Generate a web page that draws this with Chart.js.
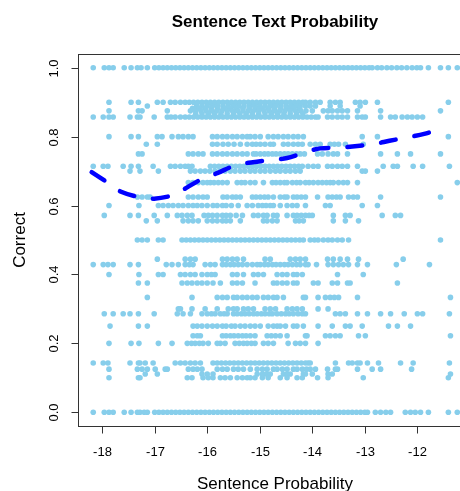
<!DOCTYPE html>
<html>
<head>
<meta charset="utf-8">
<script src="https://cdn.jsdelivr.net/npm/chart.js@4/dist/chart.umd.min.js"></script>
<style>
html,body{margin:0;padding:0;background:#fff;overflow:hidden;width:460px;height:491px;}
#wrap{position:absolute;left:0;top:0;width:500px;height:491px;}
</style>
</head>
<body>
<div id="wrap"><canvas id="c" width="500" height="491"></canvas></div>
<script>
// ---- Data ----
const chartTitle = "Sentence Text Probability";
const xTitle = "Sentence Probability";
const yTitle = "Correct";
const xTicks = [-18, -17, -16, -15, -14, -13, -12, -11];
const yTicks = [0, 0.2, 0.4, 0.6, 0.8, 1.0];
const yTickLabels = ["0.0", "0.2", "0.4", "0.6", "0.8", "1.0"];

// x positions of points on each observed "Correct" level
const xAt1000 = [-18.17,-17.96,-17.87,-17.79,-17.58,-17.45,-17.33,-17.26,-17.14,
 -17.00,-16.92,-16.84,-16.76,-16.68,-16.60,-16.52,-16.44,-16.36,-16.28,-16.20,-16.12,-16.04,-15.96,-15.88,-15.80,-15.72,-15.64,-15.56,-15.48,-15.40,-15.32,-15.24,-15.16,-15.08,-15.00,-14.92,-14.84,-14.76,-14.68,-14.60,-14.52,-14.44,-14.36,-14.28,-14.20,-14.12,-14.04,-13.96,-13.88,-13.80,-13.72,-13.64,-13.56,-13.48,-13.40,-13.32,-13.24,-13.16,-13.08,-13.00,-12.92,-12.86,
 -12.76,-12.68,-12.58,-12.49,-12.39,-12.30,-12.20,-12.10,-12.01,-11.94,-11.79,-11.56,-11.41,-11.24];
const xAt0900 = [-17.87,-17.45,-17.31,-16.95,-16.84,-16.70,-16.61,-16.51,
 -16.42,-16.34,-16.26,-16.18,-16.10,-16.02,-15.94,-15.86,-15.78,-15.70,-15.62,-15.54,-15.46,-15.38,-15.30,-15.22,-15.14,-15.06,-14.98,-14.90,-14.82,-14.74,-14.66,-14.58,-14.50,-14.42,-14.34,-14.26,-14.18,-14.13,
 -14.04,-13.94,-13.85,-13.66,-13.56,-13.47,-13.18,-13.09,-12.99,-12.76,-11.41];
const xAt0889 = [-17.14,-16.20,-16.10,-16.00,-15.90,-15.80,-15.70,-15.60,-15.50,-15.40,-15.30,-15.20,-15.10,-15.00,-14.90,-14.80,-14.70,-14.60,-14.50,-14.41,-14.32,-14.23,-14.13,-14.04,-13.94,-13.66,-13.47,-13.09];
const xAt0882 = [-16.28,-16.16,-16.04,-15.92,-15.80,-15.68,-15.56,-15.44,-15.32,-15.20,-15.08,-14.96,-14.84,-14.72,-14.60,-14.48,-14.36,-14.24];
const xAt0875 = [-17.87,-17.31,-17.24,-16.76,
 -16.32,-16.22,-16.12,-16.02,-15.92,-15.82,-15.72,-15.62,-15.52,-15.42,-15.32,-15.22,-15.12,-15.02,-14.92,-14.82,-14.72,-14.62,-14.52,-14.42,-14.32,-14.22,-14.12,-14.00,
 -13.79,-13.70,-13.62,-13.52,-13.43,-13.33,-13.14,-12.70,-11.56];
const xAt0867 = [-16.22,-16.10,-15.98,-15.86,-15.74,-15.62,-15.50,-15.38,-15.26,-15.14,-15.02,-14.90,-14.78,-14.66,-14.54,-14.42,-14.30,-14.18];
const xAt0857 = [-18.17,-17.98,-17.87,-17.79,-17.47,-17.33,-17.28,-17.01,-16.76,-16.69,-16.61,-16.51,
 -16.42,-16.34,-16.26,-16.18,-16.10,-16.02,-15.94,-15.86,-15.78,-15.70,-15.62,-15.54,-15.46,-15.38,-15.30,-15.22,-15.14,-15.06,-14.98,-14.90,-14.82,-14.74,-14.66,-14.58,-14.50,-14.42,-14.34,-14.26,-14.18,-14.10,-14.02,-13.94,-13.89,
 -13.71,-13.62,-13.52,-13.43,-13.33,-13.14,-13.05,-12.99,-12.70,-12.51,-12.42,-12.29,-12.19,-12.10,-12.00,-11.90];
const xAt0800 = [-17.87,-17.45,-17.31,-16.95,-16.86,-16.67,-16.55,-16.46,-16.36,-16.27,-15.90,-15.81,-15.71,-15.62,-15.52,-15.43,-15.33,-15.24,-15.18,-15.09,-14.99,-14.84,-14.74,-14.65,-14.55,-14.46,-14.36,-14.27,-14.17,-13.05,-12.76,-11.41];
const xAt0778 = [-17.16,-16.95,-15.90,-15.81,-15.70,-15.60,-15.49,-15.37,-15.24,-15.14,-15.07,-14.99,-14.90,-14.80,-14.74,-14.55,-14.46,-14.36,-14.27,-14.19,-14.04,-13.94,-13.85,-13.66,-13.58,-13.50,-13.37,-13.03];
const xAt0750 = [-17.31,-17.24,-16.36,-16.27,-16.17,-16.08,-15.90,-15.81,-15.71,-15.62,-15.52,-15.43,-15.33,-15.24,-15.12,-15.07,-14.99,-14.91,-14.84,-14.76,-14.69,-14.61,-14.53,-14.46,-14.38,-14.30,-14.23,-14.15,-13.90,-13.81,-13.70,-13.60,-13.52,-13.33,-12.70,-12.38,-12.13,-11.56];
const xAt0714 = [-18.17,-17.98,-17.89,-17.60,-17.45,-17.31,-17.03,-16.70,-16.61,-16.51,-16.42,-16.36,-16.29,
 -15.94,-15.86,-15.78,-15.70,-15.62,-15.54,-15.46,-15.38,-15.30,-15.22,-15.14,-15.06,-14.98,-14.90,-14.82,-14.74,-14.66,-14.58,-14.50,-14.42,-14.34,-14.26,-14.19,
 -14.08,-13.98,-13.89,-13.71,-13.62,-13.52,-13.43,-13.33,-13.14,-12.65,-12.46,-12.38,-12.08,-11.90,-11.39];
const xAt0700 = [-17.47,-17.28,-16.93,-16.32,-16.23,-16.13,-16.04,-15.95,-15.85,-15.75,-15.66,-15.56,-15.47,-15.37,-15.28,-15.18,-15.09,-14.99,-14.90,-14.80,-14.70,-14.61,-14.51,-14.42,-14.32,-14.23,-13.05,-12.99,-12.76];
const xAt0667 = [-16.36,-16.27,-16.17,-16.08,-16.00,-15.94,-15.87,-15.79,-15.71,-15.62,-15.43,-15.35,-15.28,-15.18,-15.09,-14.93,-14.76,-14.69,-14.61,-14.53,-14.48,-14.38,-14.30,-14.23,-14.13,-14.06,-13.98,-13.89,-13.81,-13.73,-13.66,-13.60,-13.50,-13.41,-13.33,-13.14,-11.24];
const xAt0625 = [-17.33,-17.24,-17.14,-17.09,-16.36,-16.27,-16.17,-16.08,-16.00,-15.70,-15.62,-15.52,-15.45,-15.37,-15.14,-15.07,-14.99,-14.91,-14.84,-14.74,-14.61,-14.53,-14.48,-14.36,-14.29,-14.21,-14.13,-13.90,-13.70,-13.62,-13.54,-13.47,-13.31,-13.22,-13.14,-12.70,-11.56];
const xAt0600 = [-17.87,-17.30,-16.93,-16.84,-16.74,-16.65,-16.55,-16.46,-16.36,-16.27,-16.19,-16.10,-16.00,-15.89,-15.81,-15.71,-15.64,-15.54,-15.41,-15.24,-15.14,-15.03,-14.95,-14.88,-14.80,-14.74,-14.61,-14.48,-14.38,-14.29,-14.13,-13.75,-13.66,-13.05,-12.76];
const xAt0571 = [-17.96,-17.47,-17.31,-17.01,-16.76,-16.57,-16.48,-16.38,-16.29,-16.06,-15.98,-15.90,-15.81,-15.71,-15.64,-15.56,-15.45,-15.33,-15.12,-15.03,-14.93,-14.86,-14.74,-14.67,-14.48,-14.36,-14.29,-14.21,-14.13,-14.06,-14.00,-13.60,-13.37,-13.28,-12.67,-12.42,-12.32];
const xAt0556 = [-17.16,-16.95,-16.46,-16.36,-16.27,-16.17,-16.00,-15.90,-15.81,-15.71,-15.64,-15.56,-15.37,-14.93,-14.86,-14.76,-14.67,-14.32,-14.25,-14.17,-13.60,-13.37,-13.12];
const xAt0500 = [-17.33,-17.24,-17.14,-16.93,-16.84,
 -16.48,-16.40,-16.32,-16.24,-16.16,-16.08,-16.00,-15.92,-15.84,-15.76,-15.68,-15.60,-15.52,-15.44,-15.36,-15.28,-15.20,-15.12,-15.04,-14.96,-14.88,-14.80,-14.72,-14.64,-14.56,-14.48,-14.40,-14.32,-14.24,-14.17,
 -14.04,-13.96,-13.89,-13.79,-13.70,-13.62,-13.52,-13.43,-13.31,-11.56];
const xAt0444 = [-16.95,-16.42,-16.32,-16.23,-15.71,-15.62,-15.52,-15.43,-15.31,-14.90,-14.80,-14.42,-14.32,-14.23,-14.13,-13.71,-13.60,-13.47,-13.33,-13.12,-12.27];
const xAt0429 = [-18.17,-17.98,-17.89,-17.79,-17.47,-17.31,-16.78,-16.67,-16.55,-16.42,-16.34,-16.27,-16.04,-15.94,-15.85,-15.71,-15.64,-15.56,-15.49,-15.41,-15.33,-15.24,-15.14,-15.05,-14.99,-14.91,-14.84,-14.76,-14.69,-14.61,-14.53,-14.46,-14.38,-14.30,-14.23,-14.13,-14.08,-13.92,-13.70,-13.60,-13.50,-13.41,-13.31,-13.14,-12.95,-12.40,-11.77];
const xAt0400 = [-17.87,-17.30,-16.93,-16.84,-16.51,-16.42,-16.32,-16.23,-16.10,-16.00,-15.92,-15.85,-15.52,-15.43,-15.31,-15.12,-15.03,-14.93,-14.67,-14.57,-14.48,-14.36,-14.29,-14.19,-13.52,-13.03];
const xAt0375 = [-17.31,-17.14,-16.48,-16.38,-16.29,-16.19,-16.10,-16.00,-15.89,-15.75,-15.52,-15.43,-15.33,-15.09,-14.74,-14.67,-14.57,-14.48,-14.36,-14.29,-13.98,-13.89,-13.62,-13.52,-13.33,-13.28,-12.38];
const xAt0333 = [-17.14,-16.29,-15.81,-15.71,-15.62,-15.50,-15.43,-15.33,-15.24,-15.14,-15.05,-14.93,-14.84,-14.74,-14.67,-14.55,-14.17,-14.13,-13.89,-13.75,-13.66,-13.58,-13.50,-13.14,-11.37];
const xAt0300 = [-16.55,-16.51,-16.29,-16.04,-15.81,-15.60,-15.50,-15.43,-15.31,-15.22,-15.12,-14.90,-14.80,-14.70,-14.48,-14.38,-14.29,-14.19,-13.89,-13.70];
const xAt0286 = [-17.96,-17.79,-17.60,-17.47,-17.31,-17.01,-16.57,-16.46,-16.32,-16.10,-16.00,-15.92,-15.85,-15.75,-15.68,-15.62,-15.50,-15.43,-15.35,-15.28,-15.20,-15.12,-15.05,-14.97,-14.90,-14.82,-14.76,-14.67,-14.59,-14.51,-14.44,-14.36,-14.27,-14.19,-14.13,-13.56,-13.47,-13.37,-13.14,-12.95,-12.70,-12.51,-12.25,-12.00,-11.90,-11.39];
const xAt0250 = [-17.85,-17.31,-17.14,-16.27,-16.19,-16.10,-16.00,-15.90,-15.81,-15.71,-15.64,-15.54,-15.47,-15.37,-15.28,-15.18,-15.09,-14.99,-14.84,-14.74,-14.67,-14.61,-14.51,-14.36,-14.29,-14.17,-13.89,-13.62,-13.37,-13.28,-13.05,-12.55,-12.38,-12.13];
const xAt0222 = [-16.27,-16.19,-16.13,-15.71,-15.64,-15.56,-15.49,-15.41,-15.33,-15.26,-15.18,-15.09,-14.86,-14.78,-14.70,-14.61,-14.48,-14.13,-14.10,-13.75,-13.66,-13.56,-13.47,-13.12,-12.99,-11.37];
const xAt0200 = [-17.87,-17.45,-17.30,-16.93,-16.67,-16.38,-16.30,-16.23,-16.15,-16.08,-15.98,-15.81,-15.75,-15.66,-15.47,-15.39,-15.31,-15.24,-15.16,-15.09,-14.93,-14.84,-14.74,-14.46,-14.32,-14.23,-14.13,-13.89];
const xAt0143 = [-18.17,-17.98,-17.89,-17.47,-17.31,-17.28,-17.18,-17.03,-16.61,-16.51,-16.42,-16.32,-16.23,-16.13,
 -15.89,-15.81,-15.73,-15.65,-15.57,-15.49,-15.41,-15.33,-15.25,-15.17,-15.09,-15.01,-14.93,-14.85,-14.77,-14.69,-14.61,-14.53,-14.45,-14.37,-14.29,-14.21,-14.13,
 -14.08,-14.04,-13.56,-13.31,-13.24,-13.14,-13.09,-12.95,-12.74,-12.32,-12.08,-11.39];
const xAt0125 = [-17.87,-17.33,-17.24,-17.14,-16.99,-16.80,-16.76,-16.36,-16.27,-16.19,-16.10,-15.81,-15.71,-15.62,-15.50,-15.41,-15.31,-15.18,-15.05,-14.95,-14.86,-14.74,-14.67,-14.57,-14.48,-14.36,-14.29,-14.19,-14.11,-14.04,-13.94,-13.71,-13.56,-13.52,-13.14,-12.86,-12.70,-12.11];
const xAt0111 = [-17.18,-16.95,-16.10,-16.00,-15.89,-15.05,-14.95,-14.88,-14.80,-14.55,-14.48,-14.42,-14.17,-14.13,-14.00,-13.70,-13.62,-11.37];
const xAt0100 = [-17.87,-17.31,-17.28,-16.38,-16.29,-16.08,-15.98,-15.89,-15.75,-15.66,-15.56,-15.43,-15.33,-15.24,-15.18,-15.09,-14.95,-14.84,-14.61,-14.48,-14.29,-14.19,-13.90,-13.70,-13.03,-11.41];
const xAt0000 = [-18.17,-17.96,-17.87,-17.79,-17.58,-17.45,-17.33,-17.28,-17.20,-17.14,
 -17.00,-16.92,-16.84,-16.76,-16.68,-16.60,-16.52,-16.44,-16.36,-16.28,-16.20,-16.12,-16.04,-15.96,-15.88,-15.80,-15.72,-15.64,-15.56,-15.48,-15.40,-15.32,-15.24,-15.16,-15.08,-15.00,-14.92,-14.84,-14.76,-14.68,-14.60,-14.52,-14.44,-14.36,-14.28,-14.20,-14.12,-14.04,-13.96,-13.88,-13.80,-13.72,-13.64,-13.56,-13.48,-13.40,-13.32,-13.24,-13.16,-13.08,-13.00,-12.95,
 -12.80,-12.70,-12.60,-12.51,-12.23,-12.13,-12.04,-11.94,-11.79,-11.41,-11.24];

const levels = [1.0, 0.9, 8/9, 15/17, 0.875, 13/15, 6/7, 0.8, 7/9, 0.75, 5/7, 0.7, 2/3, 0.625, 0.6, 4/7, 5/9, 0.5, 4/9, 3/7, 0.4, 0.375, 1/3, 0.3, 2/7, 0.25, 2/9, 0.2, 1/7, 0.125, 1/9, 0.1, 0];
const levelXs = [xAt1000, xAt0900, xAt0889, xAt0882, xAt0875, xAt0867, xAt0857, xAt0800, xAt0778, xAt0750, xAt0714, xAt0700, xAt0667, xAt0625, xAt0600, xAt0571, xAt0556, xAt0500, xAt0444, xAt0429, xAt0400, xAt0375, xAt0333, xAt0300, xAt0286, xAt0250, xAt0222, xAt0200, xAt0143, xAt0125, xAt0111, xAt0100, xAt0000];

// smoothed (loess-like) curve
const smoothX = [-18.20,-17.88,-17.64,-17.28,-17.01,-16.63,-16.39,-16.08,-15.81,-15.45,-15.13,-14.77,-14.48,-14.13,-13.85,-13.47,-13.19,-12.81,-12.53,-12.15,-11.87,-11.50];
const smoothY = [0.697,0.665,0.640,0.624,0.620,0.631,0.652,0.679,0.694,0.718,0.726,0.733,0.738,0.755,0.766,0.768,0.772,0.779,0.788,0.799,0.808,0.825];

// ---- Build datasets ----
const scatterPts = [];
levels.forEach((v, i) => levelXs[i].forEach(x => scatterPts.push({x: x, y: v})));
const smoothPts = smoothX.map((x, i) => ({x: x, y: smoothY[i]}));

const FONT = '"Liberation Sans", Arial, Helvetica, sans-serif';

const rAxes = {
  id: 'rAxes',
  afterDraw(chart) {
    const ctx = chart.ctx, a = chart.chartArea;
    const xs = chart.scales.x, ys = chart.scales.y;
    ctx.save();
    // box
    ctx.strokeStyle = '#333';
    ctx.lineWidth = 1;
    ctx.strokeRect(Math.round(a.left) + 0.5, Math.round(a.top) + 0.5, Math.round(a.right - a.left), Math.round(a.bottom - a.top));
    // x ticks
    ctx.fillStyle = '#000';
    ctx.font = '13px ' + FONT;
    ctx.textAlign = 'center';
    ctx.textBaseline = 'middle';
    const by = Math.round(a.bottom) + 0.5;
    xTicks.forEach(t => {
      const px = Math.round(xs.getPixelForValue(t)) + 0.5;
      ctx.beginPath(); ctx.moveTo(px, by); ctx.lineTo(px, by + 7); ctx.stroke();
      ctx.fillText(String(t), px, by + 26);
    });
    // y ticks
    const lx = Math.round(a.left) + 0.5;
    yTicks.forEach((t, i) => {
      const py = Math.round(ys.getPixelForValue(t)) + 0.5;
      ctx.beginPath(); ctx.moveTo(lx - 7, py); ctx.lineTo(lx, py); ctx.stroke();
      ctx.save();
      ctx.translate(lx - 24, py);
      ctx.rotate(-Math.PI / 2);
      ctx.fillText(yTickLabels[i], 0, 0);
      ctx.restore();
    });
    // titles
    const cx = (a.left + a.right) / 2;
    ctx.font = 'bold 17px ' + FONT;
    ctx.fillText(chartTitle, cx, 22);
    ctx.font = '17px ' + FONT;
    ctx.fillText(xTitle, cx, 484);
    ctx.save();
    ctx.translate(20, (a.top + a.bottom) / 2);
    ctx.rotate(-Math.PI / 2);
    ctx.fillText(yTitle, 0, 0);
    ctx.restore();
    ctx.restore();
  }
};

new Chart(document.getElementById('c'), {
  type: 'scatter',
  data: {
    datasets: [
      {
        type: 'line',
        label: 'smooth',
        data: smoothPts,
        borderColor: '#0000FF',
        borderWidth: 4.5,
        borderDash: [15, 19],
        borderCapStyle: 'round',
        pointRadius: 0,
        tension: 0.3,
        fill: false,
        order: 0
      },
      {
        label: 'points',
        data: scatterPts,
        backgroundColor: '#87CEEB',
        borderColor: '#87CEEB',
        borderWidth: 0,
        pointRadius: 2.8,
        pointHoverRadius: 2.8,
        order: 1
      }
    ]
  },
  options: {
    responsive: false,
    animation: false,
    devicePixelRatio: 1,
    layout: { padding: { left: 78, top: 54, right: 28, bottom: 65 } },
    plugins: { legend: { display: false }, tooltip: { enabled: false }, title: { display: false } },
    scales: {
      x: { type: 'linear', min: -18.46, max: -10.96, display: false },
      y: { type: 'linear', min: -0.04, max: 1.04, display: false }
    }
  },
  plugins: [rAxes]
});
</script>
</body>
</html>
